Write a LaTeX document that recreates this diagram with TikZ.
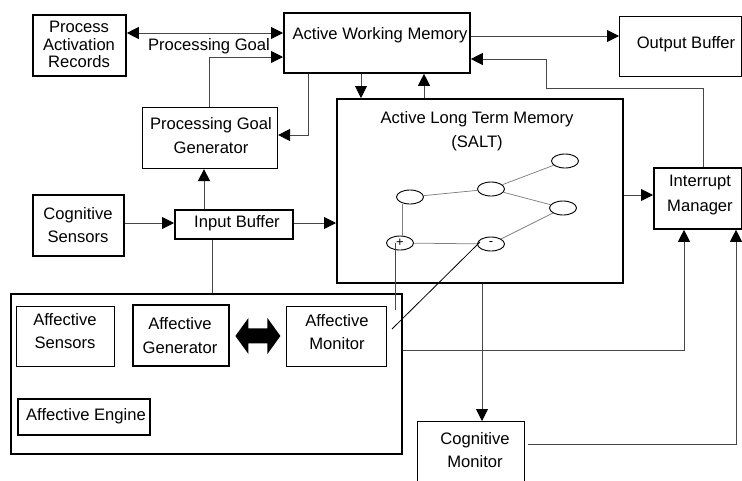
\documentclass[tikz,border=0pt]{standalone}
\usepackage{fontspec}
\setmainfont{Liberation Sans}
\usetikzlibrary{arrows.meta,shapes.geometric,calc}
\begin{document}
\begin{tikzpicture}[x=1pt,y=-1pt,
  every node/.style={font=\fontsize{16.6}{23}\selectfont},
  frame/.style={draw=black, line width=1.1pt, inner sep=0pt, anchor=north west},
  heavy/.style={frame, line width=1.8pt},
  txt/.style={align=center, inner sep=0pt},
  conn/.style={draw=black!72, line width=0.9pt},
  >={Triangle[length=12pt,width=12pt,color=black]},
  link/.style={draw=black!50, line width=0.75pt},
  cell/.style={ellipse, draw=black, line width=0.9pt, minimum width=27pt,
    minimum height=14pt, inner sep=0pt, font=\fontsize{13}{13}\selectfont},
]
\useasboundingbox (0,0) rectangle (742,480);

% ---- boxes ----
\node[heavy, minimum width=93pt,  minimum height=61pt]  (par)  at (32,14)  {};
\node[heavy, minimum width=186pt, minimum height=60pt]  (awm)  at (283,12) {};
\node[frame, minimum width=122pt, minimum height=60pt]  (ob)   at (619,16) {};
\node[frame, minimum width=135pt, minimum height=61pt]  (pgg)  at (142,107) {};
\node[heavy, minimum width=286pt, minimum height=184pt] (altm) at (336,98) {};
\node[heavy, minimum width=88pt,  minimum height=61pt]  (im)   at (653,167) {};
\node[heavy, minimum width=91pt,  minimum height=61pt]  (cs)   at (32,194) {};
\node[heavy, minimum width=118pt, minimum height=29pt]  (ib)   at (174,209) {};
\node[heavy, minimum width=391pt, minimum height=160pt] (ae)   at (10,293) {};
\node[frame, minimum width=98pt,  minimum height=60pt]  (as)   at (16,306) {};
\node[heavy, minimum width=96pt,  minimum height=61pt]  (ag)   at (132,304) {};
\node[frame, minimum width=100pt, minimum height=60pt]  (am)   at (286,306) {};
\node[heavy, minimum width=132pt, minimum height=36pt]  (aeng) at (17,398) {};
\node[frame, minimum width=107pt, minimum height=80pt]  (cm)   at (417,421) {};

% ---- box texts ----
\node[txt, font=\fontsize{16.6}{17.5}\selectfont] (par-t) at (79,44.5) {Process\\Activation\\Records};
\node[txt] (awm-t)  at (380,35)    {Active Working Memory};
\node[txt] (ob-t)   at (686,44)    {Output Buffer};
\node[txt, font=\fontsize{16.6}{24}\selectfont] (pgg-t) at (211,136) {Processing Goal\\Generator};
\node[txt, font=\fontsize{16.6}{24}\selectfont] (altm-t) at (477,131) {Active Long Term Memory\\(SALT)};
\node[txt, font=\fontsize{16.6}{25}\selectfont] (im-t) at (700,195.5) {Interrupt\\Manager};
\node[txt] (cs-t)   at (78,225.5)  {Cognitive\\Sensors};
\node[txt] (ib-t)   at (237,223)   {Input Buffer};
\node[txt] (as-t)   at (65,331.5)  {Affective\\Sensors};
\node[txt, font=\fontsize{16.6}{24}\selectfont] (ag-t) at (180,336) {Affective\\Generator};
\node[txt] (am-t)   at (337,332)   {Affective\\Monitor};
\node[txt] (aeng-t) at (86,416)    {Affective Engine};
\node[txt] (cm-t)   at (475,450.5) {Cognitive\\Monitor};
\node[txt] (pg-t)   at (209,46)    {Processing Goal};

% ---- SALT network ----
\node[cell] (n1) at (565,161) {};
\node[cell] (n2) at (491,189) {};
\node[cell] (n3) at (410,197) {};
\node[cell] (n4) at (563,208) {};
\node[cell] (pl) at (400,243) {+};
\node[cell] (mi) at (491,244) {-};
\draw[link] (n3) -- (n2);
\draw[link] (n2) -- (n1);
\draw[link] (n2) -- (n4);
\draw[link] (n4) -- (mi);
\draw[link] (pl) -- (mi);
\draw[link] ([xshift=2pt]pl.north) -- ([xshift=2pt]pl.north |- n3.south);

% free ends reaching down into the affective engine
\coordinate (e1) at (395,310);
\coordinate (e2) at (392,329);
\draw[conn] (e1 |- pl.center) -- (e1);
\draw[draw=black, line width=0.8pt] ($(mi.center)+(-11,-2)$) -- (e2);

% ---- guide coordinates for connector routes ----
\coordinate (h1)  at (0,33);
\coordinate (h2)  at (0,57);
\coordinate (h3)  at (0,135);
\coordinate (h4)  at (0,36);
\coordinate (h5)  at (0,88);
\coordinate (h6)  at (0,59);
\coordinate (h7)  at (0,223);
\coordinate (h8)  at (0,195);
\coordinate (h9)  at (0,350);
\coordinate (h10) at (0,444);
\coordinate (v1)  at (209,0);
\coordinate (v2)  at (308,0);
\coordinate (v3)  at (361,0);
\coordinate (v4)  at (424,0);
\coordinate (v5)  at (703,0);
\coordinate (v6)  at (546,0);
\coordinate (v7)  at (204,0);
\coordinate (v8)  at (212,0);
\coordinate (v9)  at (684,0);
\coordinate (v10) at (736,0);
\coordinate (v11) at (482,0);

% ---- connectors ----
\draw[conn, <->] (par.east |- h1) -- (awm.west |- h1);
\draw[conn, ->] (v1 |- pgg.north) |- (awm.west |- h2);
\draw[conn, ->] (v2 |- awm.south) |- (pgg.east |- h3);
\draw[conn, ->] (v3 |- awm.south) -- (v3 |- altm.north);
\draw[conn, ->] (v4 |- altm.north) -- (v4 |- awm.south);
\draw[conn, ->] (awm.east |- h4) -- (ob.west |- h4);
\draw[conn, ->] (v5 |- im.north) |- (v6 |- h5) |- (awm.east |- h6);
\draw[conn, ->] (v7 |- ib.north) -- (v7 |- pgg.south);
\draw[conn, ->] (cs.east |- h7) -- (ib.west |- h7);
\draw[conn, ->] (ib.east |- h7) -- (altm.west |- h7);
\draw[conn] (v8 |- ib.south) -- (v8 |- ae.north);
\draw[conn, ->] (altm.east |- h8) -- (im.west |- h8);
\draw[conn, ->] (ae.east |- h9) -| (v9 |- im.south);
\draw[conn, ->] ([xshift=3pt]cm.east |- h10) -| (v10 |- im.south);
\draw[conn, ->] (v11 |- altm.south) -- (v11 |- cm.north);

% ---- broad two-way arrow between generator and monitor ----
\coordinate (dc) at ($(ag.east)!0.5!(am.west)$);
\fill[black] (dc) ++(-22.5,0) -- ++(13,-18) -- ++(0,10.5) -- ++(19,0)
  -- ++(0,-10.5) -- ++(13,18) -- ++(-13,18) -- ++(0,-10.5) -- ++(-19,0)
  -- ++(0,10.5) -- cycle;
\end{tikzpicture}
\end{document}
